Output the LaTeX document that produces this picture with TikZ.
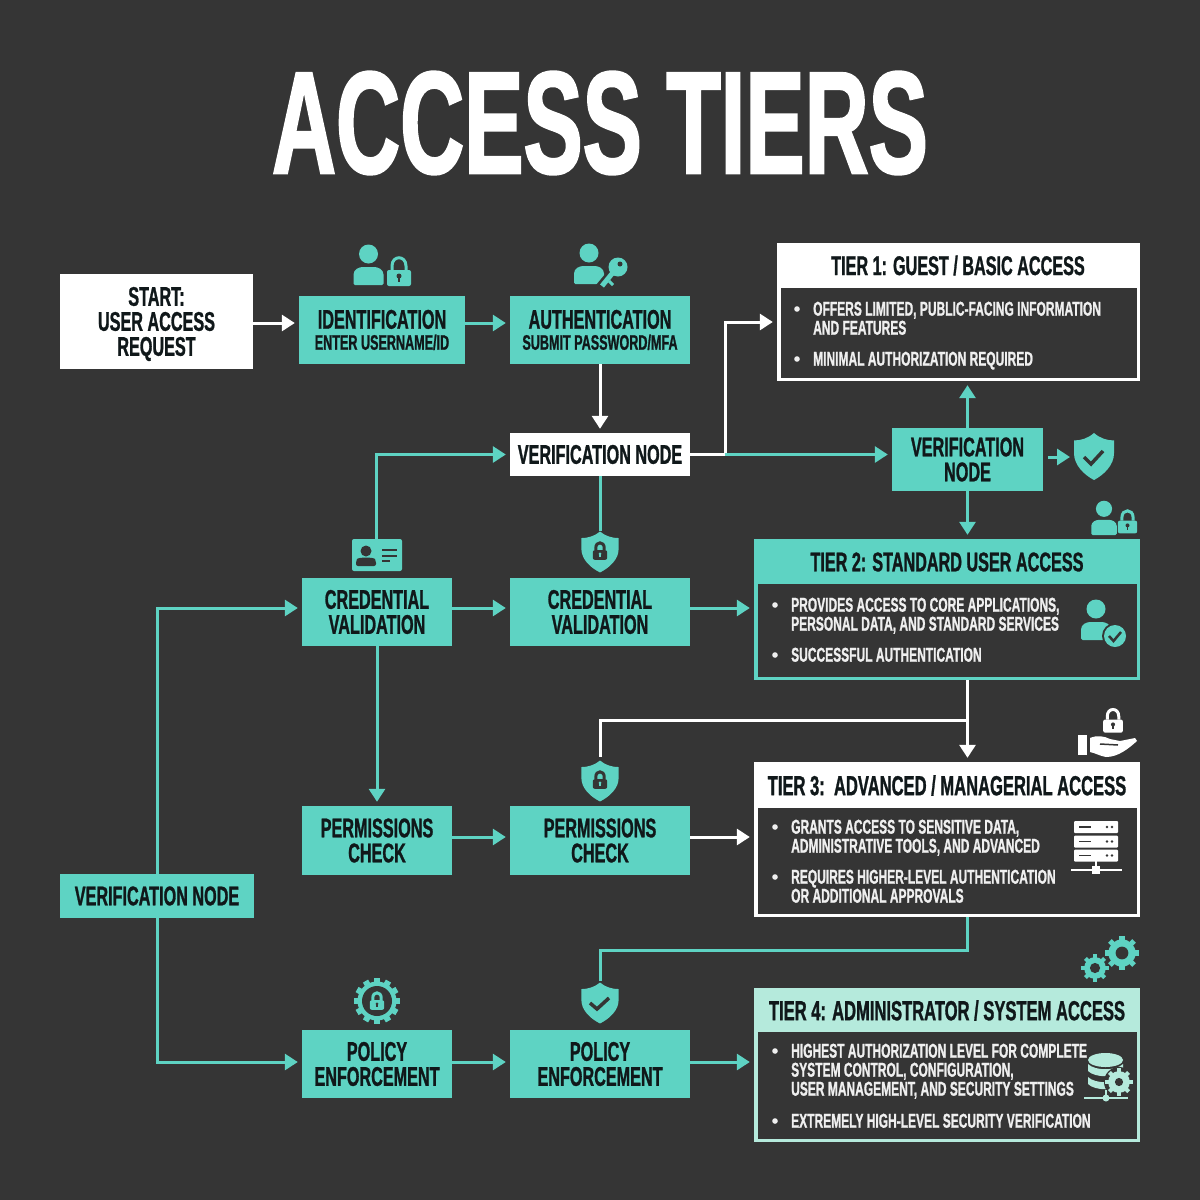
\documentclass[tikz,border=0pt]{standalone}
\usepackage{fontspec}
\setmainfont{Liberation Sans}[FakeStretch=0.6, BoldFeatures={FakeBold=1}]
\newfontfamily\titlefont{Liberation Sans Bold}[FakeStretch=0.608, FakeBold=1.4]
\usepackage{xcolor}
\usetikzlibrary{arrows.meta}

\definecolor{bgdark}{HTML}{353535}
\definecolor{tealmain}{HTML}{5ED3C3}
\definecolor{tealpale}{HTML}{B5EADC}
\definecolor{inkdark}{HTML}{10181A}
\definecolor{bodywhite}{HTML}{EFEFEF}

\newcommand{\boxsub}{\bfseries\fontsize{21}{21}\selectfont}

\tikzset{
    flowbox/.style={rectangle, inner sep=0pt, align=center, text=inkdark,
        font=\bfseries\fontsize{27}{25}\selectfont},
    tealbox/.style={flowbox, fill=tealmain},
    whitebox/.style={flowbox, fill=white},
    tierbox/.style={rectangle, inner sep=0pt},
    tierhead/.style={inner sep=0pt, text=inkdark, font=\bfseries\fontsize{27}{27}\selectfont},
    tierheadwide/.style={tierhead, font=\bfseries\fontsize{27.6}{27.6}\selectfont},
    tierlist/.style={anchor=north west, inner sep=0pt, align=left, text=bodywhite,
        font=\bfseries\fontsize{20}{19}\selectfont},
    tealline/.style={draw=tealmain, line width=3pt},
    whiteline/.style={draw=white, line width=3pt},
    tealarrow/.style={tealline, -{Triangle[length=13pt,width=16pt]}, shorten >=4pt},
    whitearrow/.style={whiteline, -{Triangle[length=13pt,width=16pt]}, shorten >=4pt},
    pics/personicon/.style={code={
        \fill[#1] (0,-12) circle (9.5);
        \fill[#1, rounded corners=1.5pt] (-15,19) -- (-15,10) .. controls (-15,3) and (-9,1) .. (-4,1)
            -- (4,1) .. controls (9,1) and (15,3) .. (15,10) -- (15,19) -- cycle;
    }},
    pics/lockicon/.style 2 args={code={
        \draw[#1, line width=3pt] (-7,-3) -- (-7,-7) .. controls (-7,-18) and (7,-18) .. (7,-7) -- (7,-3);
        \fill[#1, rounded corners=2pt] (-12,-3) rectangle (12,13);
        \fill[#2] (0,3) circle (2.5);
        \fill[#2] (-1,3) rectangle (1,9);
    }},
    pics/shieldicon/.style={code={
        \fill[#1] (0,-22) .. controls (6,-17) and (13,-15) .. (20,-15) -- (20,-3)
            .. controls (20,8) and (10,17) .. (0,22) .. controls (-10,17) and (-20,8) .. (-20,-3)
            -- (-20,-15) .. controls (-13,-15) and (-6,-17) .. (0,-22) -- cycle;
    }},
    pics/gearicon/.style n args={3}{code={
        \foreach \a in {0,45,...,315}
            \fill[#1, rotate=\a] (-3,-20) rectangle (3,0);
        \fill[#1] (0,0) circle (16);
        \fill[#2] (0,0) circle (#3);
    }},
}

\begin{document}
\begin{tikzpicture}[x=1pt, y=-1pt]
    \useasboundingbox (0,0) rectangle (1200,1200);
    \fill[bgdark] (0,0) rectangle (1200,1200);

    % Title
    \node[inner sep=0pt, text=white, font=\titlefont\fontsize{146}{146}\selectfont] (title) at (600,123) {ACCESS TIERS};

    % Flow boxes, first rows
    \node[whitebox, minimum width=193, minimum height=95] (start) at (156.5,321.5) {};
    \node[flowbox] (starttext) at (156.5,324) {START:\\USER ACCESS\\REQUEST};
    \node[tealbox, minimum width=166, minimum height=68] (ident) at (382,330)
        {IDENTIFICATION\\[-4pt]{\boxsub ENTER USERNAME/ID}};
    \node[tealbox, minimum width=180, minimum height=68] (auth) at (600,330)
        {AUTHENTICATION\\[-4pt]{\boxsub SUBMIT PASSWORD/MFA}};
    \node[whitebox, minimum width=180, minimum height=43] (verifw) at (600,454.5) {VERIFICATION NODE};
    \node[tealbox, minimum width=151, minimum height=63] (verifv) at (967.5,459.5) {VERIFICATION\\NODE};

    % Flow boxes, lower rows
    \node[tealbox, minimum width=150, minimum height=68] (creda) at (377,612) {CREDENTIAL\\VALIDATION};
    \node[tealbox, minimum width=180, minimum height=68] (credb) at (600,612) {CREDENTIAL\\VALIDATION};
    \node[tealbox, minimum width=150, minimum height=69] (perma) at (377,840.5) {PERMISSIONS\\CHECK};
    \node[tealbox, minimum width=180, minimum height=69] (permb) at (600,840.5) {PERMISSIONS\\CHECK};
    \node[tealbox, minimum width=150, minimum height=68] (pola) at (377,1064) {POLICY\\ENFORCEMENT};
    \node[tealbox, minimum width=180, minimum height=68] (polb) at (600,1064) {POLICY\\ENFORCEMENT};
    \node[tealbox, minimum width=194, minimum height=44] (verifl) at (157,896) {VERIFICATION NODE};

    % Tier 1
    \node[tierbox, fill=white, minimum width=363, minimum height=138] (tierone) at (958.5,312) {};
    \fill[bgdark] (780.5,287.5) rectangle (1136.5,377.5);
    \node[tierhead] (tieronehead) at (958,265.5) {TIER 1: GUEST / BASIC ACCESS};
    \node[tierlist] (tieronea) at (813,301.5) {OFFERS LIMITED, PUBLIC-FACING INFORMATION\\AND FEATURES};
    \node[tierlist] (tieroneb) at (813,351.5) {MINIMAL AUTHORIZATION REQUIRED};

    % Tier 2
    \node[tierbox, fill=tealmain, minimum width=386, minimum height=141] (tiertwo) at (947,609.5) {};
    \fill[bgdark] (757.5,584) rectangle (1136.5,676.5);
    \node[tierhead] (tiertwohead) at (947,562) {TIER 2: STANDARD USER ACCESS};
    \node[tierlist] (tiertwoa) at (791,597.5) {PROVIDES ACCESS TO CORE APPLICATIONS,\\PERSONAL DATA, AND STANDARD SERVICES};
    \node[tierlist] (tiertwob) at (791,647.5) {SUCCESSFUL AUTHENTICATION};

    % Tier 3
    \node[tierbox, fill=white, minimum width=386, minimum height=155] (tierthree) at (947,839.5) {};
    \fill[bgdark] (757.5,807.5) rectangle (1136.5,913.5);
    \node[tierheadwide] (tierthreehead) at (947,785.5) {TIER 3:\ \ ADVANCED / MANAGERIAL ACCESS};
    \node[tierlist] (tierthreea) at (791,819.5) {GRANTS ACCESS TO SENSITIVE DATA,\\ADMINISTRATIVE TOOLS, AND ADVANCED};
    \node[tierlist] (tierthreeb) at (791,869.5) {REQUIRES HIGHER-LEVEL AUTHENTICATION\\OR ADDITIONAL APPROVALS};

    % Tier 4
    \node[tierbox, fill=tealpale, minimum width=386, minimum height=154] (tierfour) at (947,1065) {};
    \fill[bgdark] (757.5,1032) rectangle (1136.5,1138.5);
    \node[tierheadwide] (tierfourhead) at (947,1010.5) {TIER 4: ADMINISTRATOR / SYSTEM ACCESS};
    \node[tierlist] (tierfoura) at (791,1043.5) {HIGHEST AUTHORIZATION LEVEL FOR COMPLETE\\SYSTEM CONTROL, CONFIGURATION,\\USER MANAGEMENT, AND SECURITY SETTINGS};
    \node[tierlist] (tierfourb) at (791,1113.5) {EXTREMELY HIGH-LEVEL SECURITY VERIFICATION};

    % Bullets
    \foreach \bx/\by in {797/309, 797/359, 775/605, 775/655, 775/827, 775/877, 775/1051, 775/1121}
        \fill[bodywhite] (\bx,\by) circle (2.8);

    % Free ends of the connectors
    \coordinate (splitw) at (725,454.5);
    \coordinate (branchc) at (967.5,720);
    \coordinate (bendd) at (967.5,950);
    \coordinate (cardtop) at (376.5,539);
    \coordinate (shieldb) at (600,531);
    \coordinate (shieldc) at (600,757);
    \coordinate (shieldd) at (600,981);
    \coordinate (shieldv) at (1074,457);

    % Connectors, top
    \draw[whitearrow] (start.east) ++(0,1.5) -- (ident.west |- 0,323);
    \draw[tealarrow] ([yshift=7pt]ident.east) -- ([yshift=7pt]auth.west);
    \draw[whitearrow] (auth.south) -- (verifw.north);
    \draw[whiteline] (verifw.east) -- (splitw);
    \draw[whitearrow] (splitw) |- ([yshift=-10pt]tierone.west);
    \draw[tealarrow] (splitw) -- ([yshift=5pt]verifv.west);
    \draw[tealarrow] (verifv.north) -- (verifv.north |- tierone.south);
    \draw[tealarrow] (verifv.south) -- (verifv.south |- tiertwo.north);
    \draw[tealarrow, shorten <=5pt] ([yshift=2.5pt]verifv.east) -- (shieldv);
    \draw[tealarrow] (cardtop) |- (verifw.west);
    \draw[tealline] (verifw.south) -- (shieldb);

    % Connectors, rows
    \draw[tealarrow] ([yshift=4pt]creda.east) -- ([yshift=4pt]credb.west);
    \draw[tealarrow] ([yshift=4pt]credb.east) -- ([yshift=4pt]credb.east -| tiertwo.west);
    \draw[tealarrow] (creda.south) -- (perma.north);
    \draw[tealarrow] ([yshift=3.5pt]perma.east) -- ([yshift=3.5pt]permb.west);
    \draw[whitearrow] ([yshift=3.5pt]permb.east) -- ([yshift=3.5pt]permb.east -| tierthree.west);
    \draw[tealarrow] ([yshift=2pt]pola.east) -- ([yshift=2pt]polb.west);
    \draw[tealarrow] ([yshift=2pt]polb.east) -- ([yshift=2pt]polb.east -| tierfour.west);

    % Connectors, tiers and left side
    \draw[whitearrow] (verifv.south |- tiertwo.south) -- (verifv.south |- tierthree.north);
    \draw[whiteline] (branchc) -| (shieldc);
    \draw[tealline] (verifv.south |- tierthree.south) -- (bendd) -| (shieldd);
    \draw[tealarrow] (verifl.north) |- ([yshift=4pt]creda.west);
    \draw[tealarrow] (verifl.south) |- ([yshift=2pt]pola.west);

    % Icons over the first row
    \pic at (368.5,266) {personicon=tealmain};
    \pic at (399,273) {lockicon={tealmain}{bgdark}};
    \pic at (589,265) {personicon=tealmain};
    \draw[bgdark, line width=10pt] (615,270) -- (600,288);
    \draw[tealmain, line width=5pt] (615,270) -- (602,286);
    \draw[tealmain, line width=3pt] (609,281) -- (613,285);
    \fill[tealmain] (618,267) circle (9.5);
    \fill[bgdark] (620,264) circle (2.5);

    % Shields
    \pic[yscale=1.07] at (1094,456.5) {shieldicon=tealmain};
    \draw[bgdark, line width=3.5pt] (1084,457) -- (1091,464) -- (1103,451);
    \pic[scale=0.93] at (600,552) {shieldicon=tealmain};
    \pic[scale=0.6] at (600,552) {lockicon={bgdark}{tealmain}};
    \pic[scale=0.93] at (600,781) {shieldicon=tealmain};
    \pic[scale=0.6] at (600,781) {lockicon={bgdark}{tealmain}};
    \pic[scale=0.93] at (600,1003) {shieldicon=tealmain};
    \draw[bgdark, line width=3.5pt] (590,1003) -- (597,1009) -- (609,998);

    % Person and lock of tier 2
    \pic[scale=0.85] at (1104,519) {personicon=tealmain};
    \pic[scale=0.8] at (1127.5,523) {lockicon={tealmain}{bgdark}};

    % Person with check inside tier 2
    \pic at (1096,621) {personicon=tealmain};
    \fill[bgdark] (1115,636) circle (13);
    \fill[tealmain] (1115,636) circle (11);
    \draw[bgdark, line width=2.5pt] (1109,636) -- (1113.5,641) -- (1121,632);

    % Id card
    \fill[tealmain, rounded corners=2pt] (352,539) rectangle (402,571);
    \fill[bgdark] (366,551) circle (5.5);
    \fill[bgdark, rounded corners=2pt] (356,566) -- (356,561) .. controls (358,557) and (374,557) .. (376,561) -- (376,566) -- cycle;
    \foreach \ly/\lx in {550/397, 556/397, 561/390}
        \draw[bgdark, line width=1.5pt] (382,\ly) -- (\lx,\ly);

    % Gear with lock
    \foreach \a in {0,30,...,330}
        \fill[tealmain, rotate around={\a:(377,1001)}] (374,978) rectangle (380,990);
    \fill[tealmain] (377,1001) circle (19.5);
    \fill[bgdark] (377,1001) circle (15);
    \pic[scale=0.6] at (377,1002) {lockicon={tealmain}{bgdark}};

    % Lock on a hand above tier 3
    \pic[scale=0.82] at (1113,722) {lockicon={white}{bgdark}};
    \fill[white] (1078,735) rectangle (1087,755);
    \fill[white] (1090,738) .. controls (1097,735) and (1104,736) .. (1110,739) -- (1120,741) -- (1135,738) -- (1137,741)
        .. controls (1128,749) and (1118,757) .. (1106,757) .. controls (1100,756) and (1095,753) .. (1090,752) -- cycle;
    \draw[bgdark, line width=1.5pt] (1100,744) -- (1118,745);

    % Server inside tier 3
    \foreach \sy in {821,835.5,849.5} {
        \fill[white, rounded corners=1pt] (1074,\sy) rectangle (1118,\sy+12);
        \draw[bgdark, line width=1.5pt] (1079,\sy+6) -- (1091,\sy+6);
        \fill[bgdark] (1107,\sy+6) circle (1.3);
        \fill[bgdark] (1112,\sy+6) circle (1.3);
    }
    \draw[white, line width=2pt] (1096,861) -- (1096,870);
    \draw[white, line width=2pt] (1071,870) -- (1122,870);
    \fill[white] (1092,866) rectangle (1100,874);

    % Gears above tier 4
    \pic[scale=0.85] at (1122,953) {gearicon={tealmain}{bgdark}{7.5}};
    \pic[scale=0.68] at (1095,968) {gearicon={tealmain}{bgdark}{7.5}};

    % Database with gear inside tier 4
    \fill[tealpale] (1105.5,1060) ellipse (17.5 and 7);
    \foreach \dy in {1064,1077}
        \fill[tealpale] (1088,\dy) -- (1088,\dy+7) .. controls (1095,\dy+14) and (1116,\dy+14) .. (1123,\dy+7) -- (1123,\dy) .. controls (1116,\dy+7) and (1095,\dy+7) .. (1088,\dy) -- cycle;
    \fill[bgdark] (1119,1082) circle (15);
    \pic[scale=0.68] at (1119,1082) {gearicon={tealpale}{bgdark}{6}};
    \draw[tealpale, line width=2pt] (1084,1098) -- (1128,1098);
    \draw[tealpale, line width=2pt] (1106,1090) -- (1106,1098);
    \fill[tealpale] (1106,1098) circle (3.5);
\end{tikzpicture}
\end{document}
